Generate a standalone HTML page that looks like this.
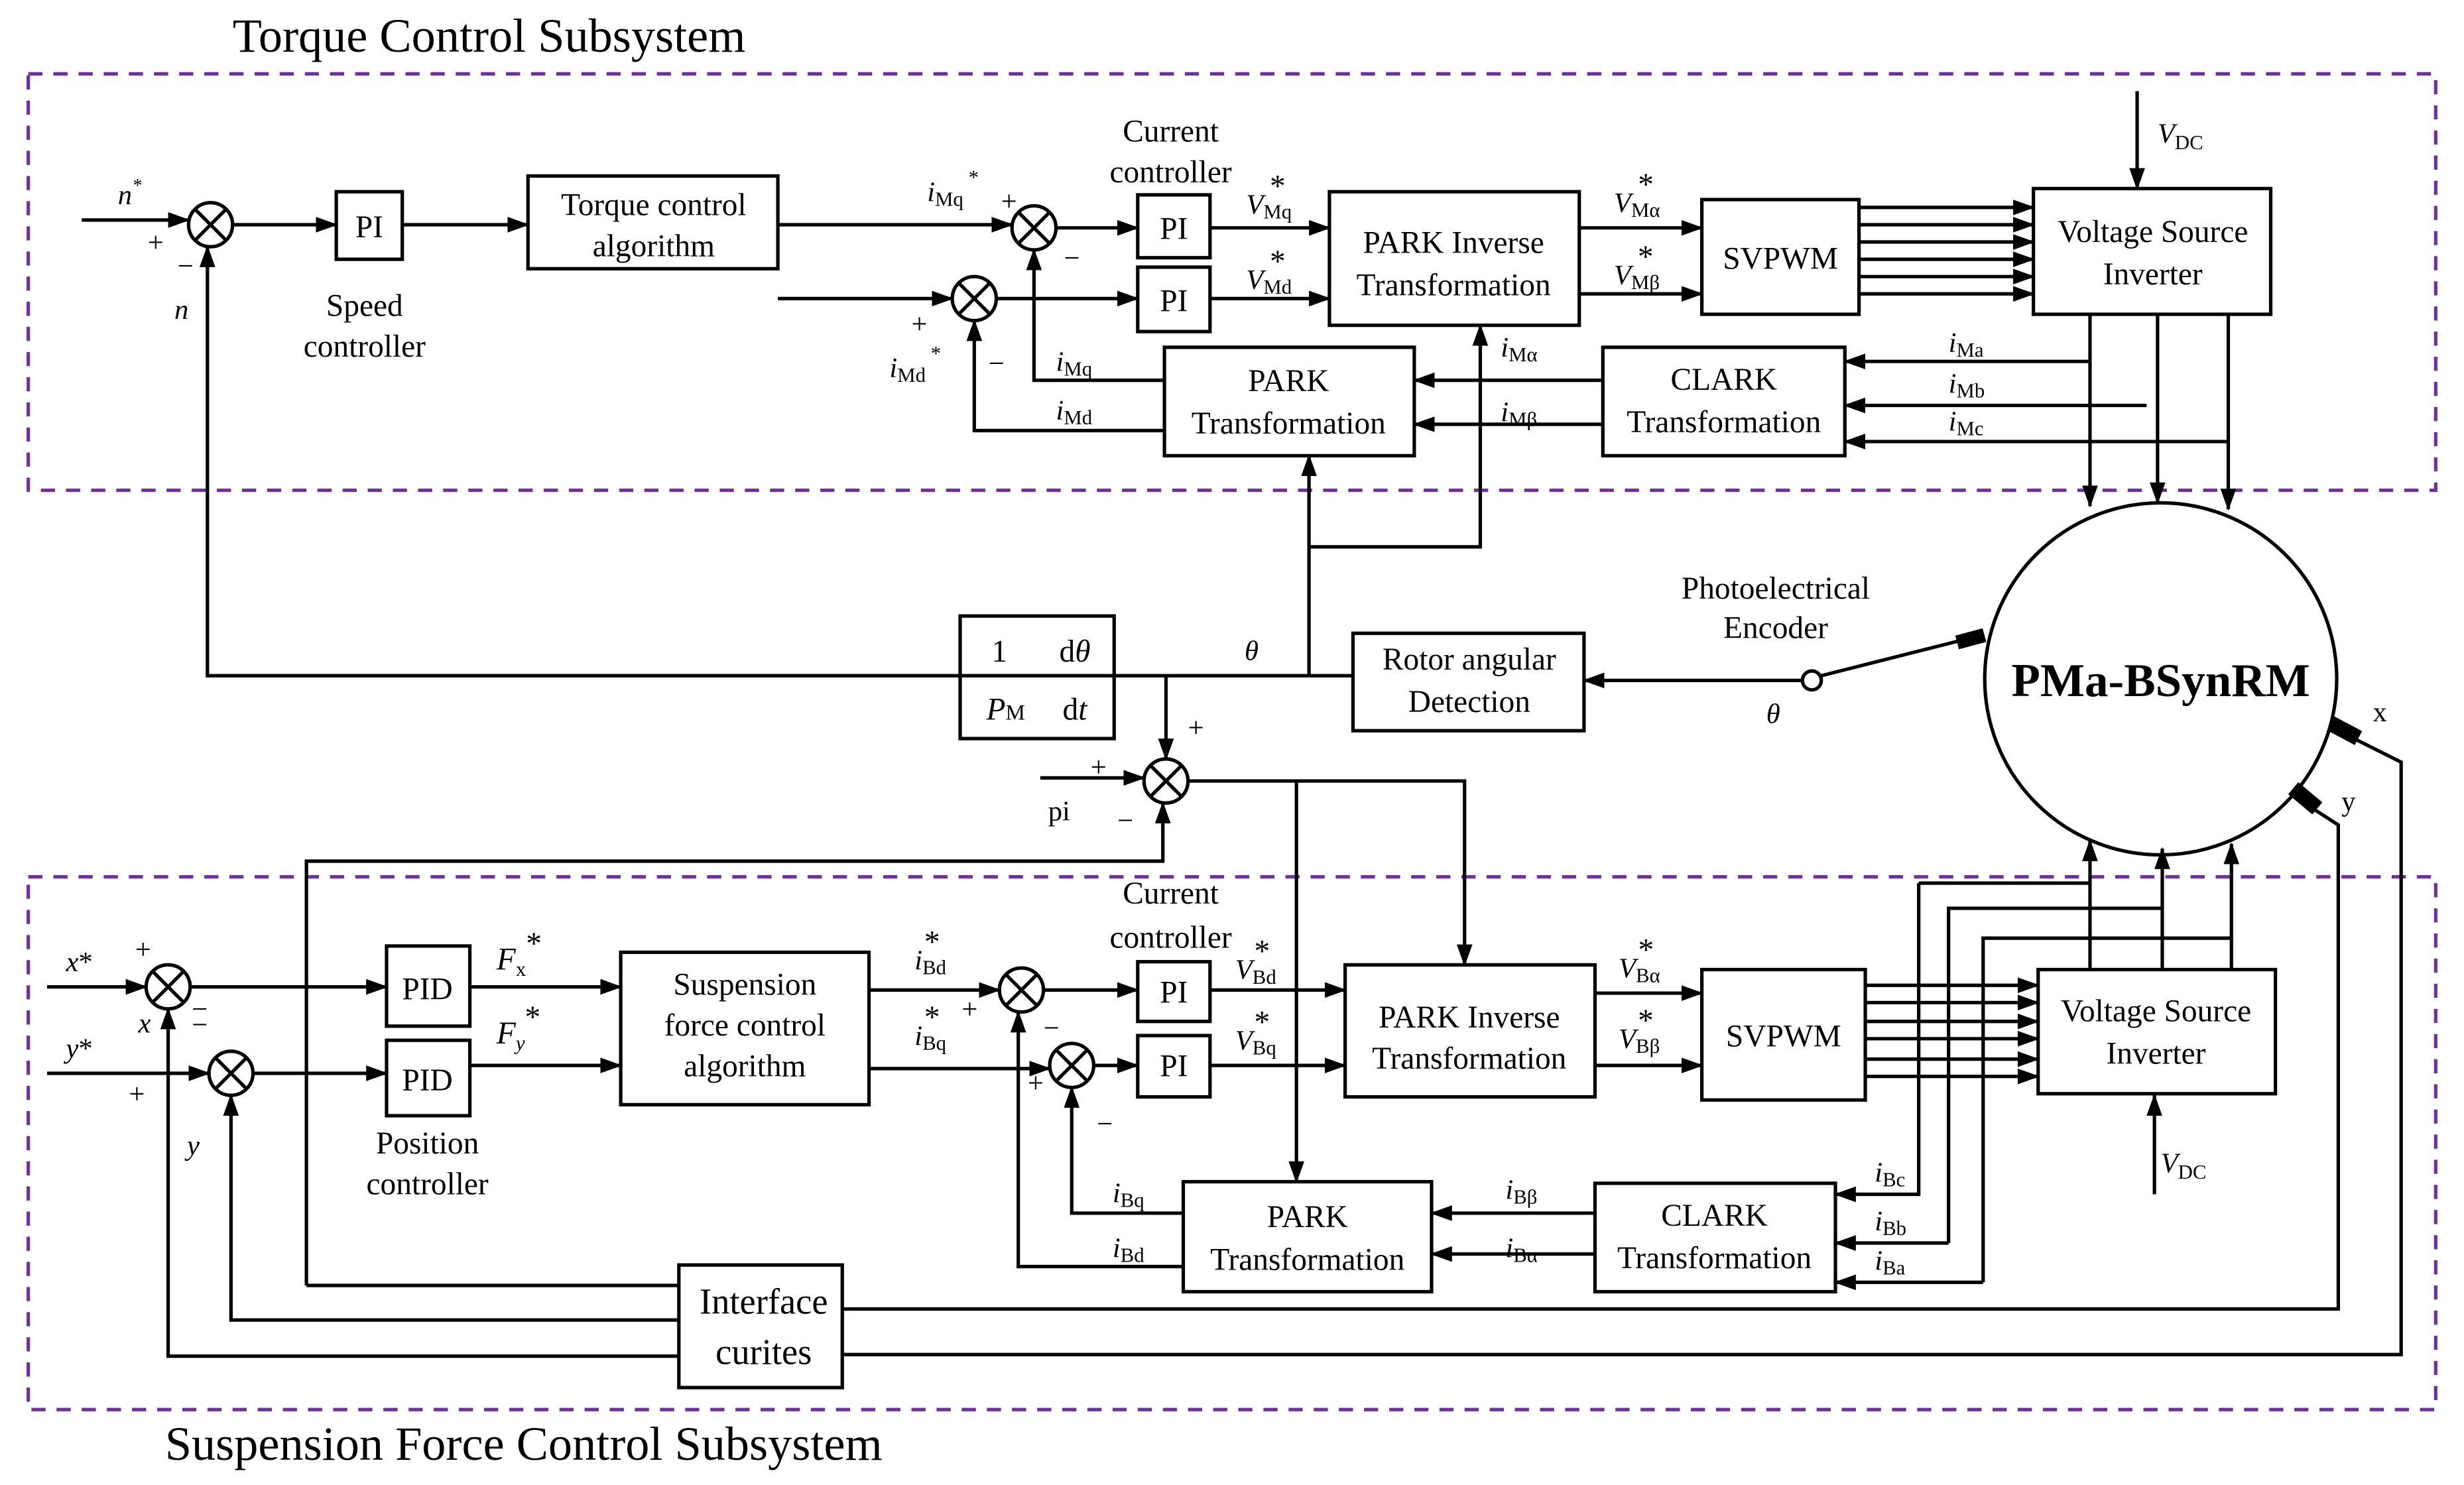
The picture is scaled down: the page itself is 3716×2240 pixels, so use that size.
<!DOCTYPE html>
<html><head><meta charset="utf-8"><style>
html,body{margin:0;padding:0;background:#fff;}
svg{display:block;font-family:"Liberation Serif","DejaVu Serif",serif;}
text,tspan{font-family:"Liberation Serif","DejaVu Serif",serif;fill:#000;}
</style></head><body>
<svg width="3716" height="2240" viewBox="0 0 1568 945" preserveAspectRatio="none" xmlns="http://www.w3.org/2000/svg" font-family="Liberation Serif, serif">
<defs>
<marker id="a" markerWidth="14" markerHeight="10" refX="13" refY="5" orient="auto" markerUnits="userSpaceOnUse"><path d="M0,0 L14,5 L0,10 z" fill="#000"/></marker>
</defs>
<g fill="none" stroke="#7030A0" stroke-width="2.2" stroke-dasharray="9,7">
<rect x="18" y="47" width="1532" height="265"/>
<rect x="18" y="558" width="1532" height="339"/>
</g>
<text x="148" y="33" font-size="30.5">Torque Control Subsystem</text>
<text x="105" y="929" font-size="30.5">Suspension Force Control Subsystem</text>

<g stroke="#000" stroke-width="2.2" fill="none">
<rect x="214" y="122" width="42" height="43"/>
<rect x="336" y="112" width="159" height="59"/>
<rect x="724" y="124" width="46" height="40"/>
<rect x="724" y="170" width="46" height="41"/>
<rect x="846" y="122" width="159" height="85"/>
<rect x="1083" y="127" width="100" height="73"/>
<rect x="1294" y="120" width="151" height="80"/>
<rect x="741" y="221" width="159" height="69"/>
<rect x="1020" y="221" width="154" height="69"/>
<rect x="611" y="392" width="98" height="78"/>
<rect x="861" y="403" width="147" height="62"/>
<rect x="246" y="602" width="53" height="51"/>
<rect x="246" y="662" width="53" height="48"/>
<rect x="395" y="606" width="158" height="97"/>
<rect x="724" y="612" width="46" height="38"/>
<rect x="724" y="659" width="46" height="39"/>
<rect x="856" y="614" width="159" height="84"/>
<rect x="1083" y="617" width="104" height="83"/>
<rect x="1297" y="617" width="151" height="79"/>
<rect x="753" y="752" width="158" height="70"/>
<rect x="1015" y="753" width="153" height="69"/>
<rect x="432" y="805" width="104" height="78"/>
<circle cx="1375" cy="432" r="112"/>
<g>
<circle cx="134" cy="143" r="14"/><path d="M124,133 L144,153 M144,133 L124,153"/>
<circle cx="658" cy="145" r="14"/><path d="M648,135 L668,155 M668,135 L648,155"/>
<circle cx="620" cy="190" r="14"/><path d="M610,180 L630,200 M630,180 L610,200"/>
<circle cx="742" cy="497" r="14"/><path d="M732,487 L752,507 M752,487 L732,507"/>
<circle cx="107" cy="628" r="14"/><path d="M97,618 L117,638 M117,618 L97,638"/>
<circle cx="147" cy="683" r="14"/><path d="M137,673 L157,693 M157,673 L137,693"/>
<circle cx="650" cy="630" r="14"/><path d="M640,620 L660,640 M660,620 L640,640"/>
<circle cx="682" cy="678" r="14"/><path d="M672,668 L692,688 M692,668 L672,688"/>
</g>
<line x1="620" y1="430" x2="700" y2="430" stroke-width="1.5"/>
</g>

<g stroke="#000" stroke-width="2.2" fill="none" marker-end="url(#a)">
<path d="M52,140 H120"/>
<path d="M148,143 H214"/>
<path d="M256,143 H336"/>
<path d="M495,143 H644"/>
<path d="M672,145 H724"/>
<path d="M770,145 H846"/>
<path d="M495,190 H606"/>
<path d="M634,190 H724"/>
<path d="M770,190 H846"/>
<path d="M1005,145 H1083"/>
<path d="M1005,187 H1083"/>
<path d="M1183,132 H1294"/><path d="M1183,143 H1294"/><path d="M1183,154 H1294"/>
<path d="M1183,165 H1294"/><path d="M1183,176 H1294"/><path d="M1183,187 H1294"/>
<path d="M1360,58 V120"/>
<path d="M1330,200 V322"/>
<path d="M1373,200 V320"/>
<path d="M1418,200 V324"/>
<path d="M1330,230 H1174"/>
<path d="M1366,258 H1174"/>
<path d="M1418,281 H1174"/>
<path d="M1020,242 H900"/>
<path d="M1020,270 H900"/>
<path d="M741,242 H658 V159"/>
<path d="M741,274 H620 V204"/>
<path d="M833,430 V290"/>
<path d="M833,348 H942 V207"/>
<path d="M861,430 H132 V157"/>
<path d="M1147,433 H1008"/>
<path d="M742,430 V483"/>
<path d="M662,495 H728"/>
<path d="M195,818 V548 H740 V511"/>
<path d="M756,497 H932 V614"/>
<path d="M825,497 V752"/>
<path d="M30,628 H93"/>
<path d="M121,628 H246"/>
<path d="M30,683 H133"/>
<path d="M161,683 H246"/>
<path d="M299,628 H395"/>
<path d="M299,678 H395"/>
<path d="M553,630 H636"/>
<path d="M664,630 H724"/>
<path d="M553,680 H668"/>
<path d="M696,678 H724"/>
<path d="M770,630 H856"/>
<path d="M770,678 H856"/>
<path d="M1015,632 H1083"/>
<path d="M1015,678 H1083"/>
<path d="M1187,627 H1297"/><path d="M1187,638 H1297"/><path d="M1187,650 H1297"/>
<path d="M1187,661 H1297"/><path d="M1187,674 H1297"/><path d="M1187,685 H1297"/>
<path d="M1371,760 V697"/>
<path d="M1330,617 V535"/>
<path d="M1376,617 V540"/>
<path d="M1420,617 V537"/>
<path d="M1221,562 H1330 M1221,562 V760 H1168"/>
<path d="M1240,791 H1168"/>
<path d="M1262,816 H1168"/>
<path d="M1015,772 H911"/>
<path d="M1015,798 H911"/>
<path d="M753,772 H682 V692"/>
<path d="M753,806 H648 V644"/>
<path d="M432,863 H107 V642"/>
<path d="M432,840 H147 V697"/>
</g>
<g stroke="#000" stroke-width="2.2" fill="none">
<path d="M1240,791 V578 H1376"/>
<path d="M1262,816 V597 H1420"/>
<path d="M195,818 H432"/>
<path d="M536,833 H1488 V525 L1468,512"/>
<path d="M536,862 H1528 V485 L1492,467"/>
<path d="M1159,430 L1250,407"/>
<circle cx="1153" cy="433" r="6" fill="#fff"/>
</g>
<rect x="1245" y="402" width="18" height="9" fill="#000" transform="rotate(-15 1254 406)"/>
<rect x="1482" y="460" width="20" height="10" fill="#000" transform="rotate(28 1492 465)"/>
<rect x="1457" y="503" width="20" height="10" fill="#000" transform="rotate(40 1467 508)"/>

<g font-size="20" text-anchor="middle">
<text x="235" y="151">PI</text>
<text x="416" y="137">Torque control</text>
<text x="416" y="163">algorithm</text>
<text x="747" y="152">PI</text>
<text x="747" y="198">PI</text>
<text x="925" y="161">PARK Inverse</text>
<text x="925" y="188">Transformation</text>
<text x="1133" y="171">SVPWM</text>
<text x="1370" y="154">Voltage Source</text>
<text x="1370" y="181">Inverter</text>
<text x="820" y="249">PARK</text>
<text x="820" y="276">Transformation</text>
<text x="1097" y="248">CLARK</text>
<text x="1097" y="275">Transformation</text>
<text x="935" y="426">Rotor angular</text>
<text x="935" y="453">Detection</text>
<text x="232" y="201">Speed</text>
<text x="232" y="227">controller</text>
<text x="745" y="90">Current</text>
<text x="745" y="116">controller</text>
<text x="1130" y="381">Photoelectrical</text>
<text x="1130" y="406">Encoder</text>
<text x="272" y="636">PID</text>
<text x="272" y="694">PID</text>
<text x="474" y="633">Suspension</text>
<text x="474" y="659">force control</text>
<text x="474" y="685">algorithm</text>
<text x="747" y="638">PI</text>
<text x="747" y="685">PI</text>
<text x="935" y="654">PARK Inverse</text>
<text x="935" y="680">Transformation</text>
<text x="1135" y="666">SVPWM</text>
<text x="1372" y="650">Voltage Source</text>
<text x="1372" y="677">Inverter</text>
<text x="832" y="781">PARK</text>
<text x="832" y="808">Transformation</text>
<text x="1091" y="780">CLARK</text>
<text x="1091" y="807">Transformation</text>
<text x="745" y="575">Current</text>
<text x="745" y="603">controller</text>
<text x="272" y="734">Position</text>
<text x="272" y="760">controller</text>
<text x="486" y="836" font-size="23">Interface</text>
<text x="486" y="868" font-size="23">curites</text>
<text x="636" y="421">1</text>
<text x="640" y="458"><tspan font-style="italic">P</tspan><tspan font-size="14">M</tspan></text>
<text x="684" y="421">d<tspan font-style="italic">θ</tspan></text>
<text x="684" y="458">d<tspan font-style="italic">t</tspan></text>
</g>
<text x="1375" y="443" font-size="30" font-weight="bold" text-anchor="middle">PMa-BSynRM</text>

<g font-size="18">
<text x="75" y="130" font-style="italic">n<tspan font-size="12" dy="-8">*</tspan></text>
<text x="94" y="160">+</text><text x="113" y="175">−</text>
<text x="111" y="203" font-style="italic">n</text>
<text x="590" y="128"><tspan font-style="italic">i</tspan><tspan font-size="13" dy="3">Mq</tspan><tspan font-size="13" dy="-14"> *</tspan></text>
<text x="637" y="134">+</text><text x="677" y="170">−</text>
<text x="580" y="212">+</text><text x="629" y="237">−</text>
<text x="566" y="240"><tspan font-style="italic">i</tspan><tspan font-size="13" dy="3">Md</tspan><tspan font-size="13" dy="-14"> *</tspan></text>
<text x="793" y="136"><tspan font-style="italic">V</tspan><tspan font-size="13" dy="3">Mq</tspan><tspan font-size="20" dy="-14" dx="-14">*</tspan></text>
<text x="793" y="184"><tspan font-style="italic">V</tspan><tspan font-size="13" dy="3">Md</tspan><tspan font-size="20" dy="-14" dx="-14">*</tspan></text>
<text x="1027" y="135"><tspan font-style="italic">V</tspan><tspan font-size="13" dy="3">Mα</tspan><tspan font-size="20" dy="-14" dx="-14">*</tspan></text>
<text x="1027" y="181"><tspan font-style="italic">V</tspan><tspan font-size="13" dy="3">Mβ</tspan><tspan font-size="20" dy="-14" dx="-14">*</tspan></text>
<text x="1373" y="91"><tspan font-style="italic">V</tspan><tspan font-size="13" dy="4">DC</tspan></text>
<text x="955" y="227"><tspan font-style="italic">i</tspan><tspan font-size="13" dy="3">Mα</tspan></text>
<text x="955" y="268"><tspan font-style="italic">i</tspan><tspan font-size="13" dy="3">Mβ</tspan></text>
<text x="1240" y="224"><tspan font-style="italic">i</tspan><tspan font-size="13" dy="3">Ma</tspan></text>
<text x="1240" y="250"><tspan font-style="italic">i</tspan><tspan font-size="13" dy="3">Mb</tspan></text>
<text x="1240" y="274"><tspan font-style="italic">i</tspan><tspan font-size="13" dy="3">Mc</tspan></text>
<text x="672" y="236"><tspan font-style="italic">i</tspan><tspan font-size="13" dy="3">Mq</tspan></text>
<text x="672" y="267"><tspan font-style="italic">i</tspan><tspan font-size="13" dy="3">Md</tspan></text>
<text x="792" y="420" font-style="italic">θ</text>
<text x="1124" y="460" font-style="italic">θ</text>
<text x="1510" y="459">x</text>
<text x="1490" y="516">y</text>
<text x="756" y="469">+</text>
<text x="694" y="494">+</text>
<text x="667" y="522">pi</text>
<text x="711" y="528">−</text>
<text x="42" y="618"><tspan font-style="italic">x</tspan>*</text>
<text x="42" y="673"><tspan font-style="italic">y</tspan>*</text>
<text x="86" y="610">+</text><text x="122" y="648">−</text>
<text x="88" y="657" font-style="italic">x</text>
<text x="122" y="658">−</text><text x="82" y="702">+</text>
<text x="119" y="735" font-style="italic">y</text>
<text x="316" y="617" font-size="20"><tspan font-style="italic">F</tspan><tspan font-size="13" dy="4">x</tspan><tspan dy="-14">*</tspan></text>
<text x="316" y="664" font-size="20"><tspan font-style="italic">F</tspan><tspan font-size="13" dy="4" font-style="italic">y</tspan><tspan dy="-14">*</tspan></text>
<text x="582" y="617"><tspan font-style="italic">i</tspan><tspan font-size="13" dy="3">Bd</tspan><tspan font-size="20" dy="-14" dx="-14">*</tspan></text>
<text x="582" y="665"><tspan font-style="italic">i</tspan><tspan font-size="13" dy="3">Bq</tspan><tspan font-size="20" dy="-14" dx="-14">*</tspan></text>
<text x="612" y="648">+</text><text x="664" y="660">−</text>
<text x="654" y="695">+</text><text x="698" y="721">−</text>
<text x="786" y="623"><tspan font-style="italic">V</tspan><tspan font-size="13" dy="3">Bd</tspan><tspan font-size="20" dy="-14" dx="-14">*</tspan></text>
<text x="786" y="668"><tspan font-style="italic">V</tspan><tspan font-size="13" dy="3">Bq</tspan><tspan font-size="20" dy="-14" dx="-14">*</tspan></text>
<text x="1030" y="622"><tspan font-style="italic">V</tspan><tspan font-size="13" dy="3">Bα</tspan><tspan font-size="20" dy="-14" dx="-14">*</tspan></text>
<text x="1030" y="667"><tspan font-style="italic">V</tspan><tspan font-size="13" dy="3">Bβ</tspan><tspan font-size="20" dy="-14" dx="-14">*</tspan></text>
<text x="1375" y="746"><tspan font-style="italic">V</tspan><tspan font-size="13" dy="4">DC</tspan></text>
<text x="1193" y="752"><tspan font-style="italic">i</tspan><tspan font-size="13" dy="3">Bc</tspan></text>
<text x="1193" y="783"><tspan font-style="italic">i</tspan><tspan font-size="13" dy="3">Bb</tspan></text>
<text x="1193" y="808"><tspan font-style="italic">i</tspan><tspan font-size="13" dy="3">Ba</tspan></text>
<text x="958" y="763"><tspan font-style="italic">i</tspan><tspan font-size="13" dy="3">Bβ</tspan></text>
<text x="958" y="800"><tspan font-style="italic">i</tspan><tspan font-size="13" dy="3">Bα</tspan></text>
<text x="708" y="765"><tspan font-style="italic">i</tspan><tspan font-size="13" dy="3">Bq</tspan></text>
<text x="708" y="800"><tspan font-style="italic">i</tspan><tspan font-size="13" dy="3">Bd</tspan></text>
</g>
</svg>
</body></html>
